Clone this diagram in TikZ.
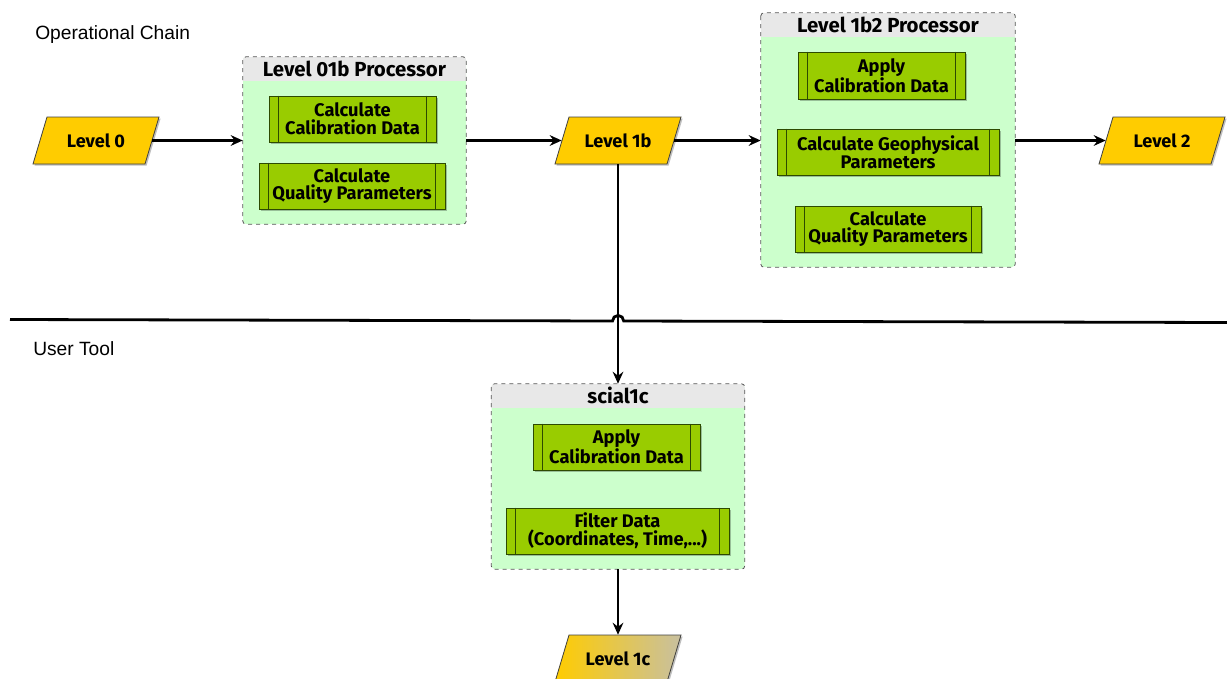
\documentclass[tikz,border=0pt]{standalone}
\usepackage{fontspec}
\setmainfont{Fira Sans}
\newfontfamily\arialfont{Liberation Sans}
\usetikzlibrary{arrows.meta,shadows,calc}
\definecolor{dataY}{HTML}{FFCC00}
\definecolor{dataEnd}{HTML}{C8C0A0}
\definecolor{procG}{HTML}{99CC00}
\definecolor{procB}{HTML}{2D4A00}
\definecolor{bodyG}{HTML}{CCFFCC}
\definecolor{headG}{HTML}{E8E8E8}
\definecolor{bordG}{HTML}{555555}
\newcommand\mydata[5]{%
  \path[datafill,#5] ({#2-63},{#3+23.5}) -- ({#2-49},{#3-23.5}) -- ({#2+63},{#3-23.5}) -- ({#2+49},{#3+23.5}) -- cycle;
  \node[datatext] (#1) at (#2,#3) {#4};
}
\newcommand\mycont[6]{%
  \node[contbody, minimum width={#4*0.75pt}, minimum height={#5*0.75pt}] (#1) at (#2,#3) {};
  \begin{scope}
    \clip[rounded corners=2.5pt] (#1.north west) rectangle (#1.south east);
    \fill[headG] (#1.north west) rectangle ([yshift=-18pt]#1.north east);
  \end{scope}
  \draw[contborder] (#1.north west) rectangle (#1.south east);
  \node[headtext] (#1-title) at ([yshift=-9pt]#1.north) {#6};
}
\newcommand\myproc[6]{%
  \node[proc, minimum width={#4*0.75pt}, minimum height={#5*0.75pt}] (#1) at (#2,#3) {#6};
  \draw[procbar] ([xshift=7.5pt]#1.north west) -- ([xshift=7.5pt]#1.south west);
  \draw[procbar] ([xshift=-7.5pt]#1.north east) -- ([xshift=-7.5pt]#1.south east);
}
\begin{document}
\begin{tikzpicture}[x=0.75pt,y=-0.75pt,
  datafill/.style={draw=black!75, line width=0.6pt, fill=dataY,
    drop shadow={shadow xshift=1.2pt, shadow yshift=-1.2pt, opacity=0.25, fill=black}},
  datatext/.style={inner sep=0pt, minimum width=84pt, minimum height=35.25pt,
    font=\fontsize{13.6}{14}\selectfont\bfseries},
  contbody/.style={fill=bodyG, rounded corners=2.5pt, inner sep=0pt},
  contborder/.style={draw=bordG, dashed, line width=0.6pt, rounded corners=2.5pt},
  headtext/.style={inner sep=0pt, font=\fontsize{15.3}{16}\selectfont\bfseries},
  proc/.style={draw=procB, fill=procG, line width=0.7pt, inner sep=0pt, align=center,
    font=\fontsize{13.7}{13.2}\selectfont\bfseries,
    drop shadow={shadow xshift=1.2pt, shadow yshift=-1.2pt, opacity=0.25, fill=black}},
  procbar/.style={draw=procB, line width=0.7pt},
  conn/.style={draw=black, line width=1.8pt, -{Stealth[length=9pt,width=8pt,inset=3pt]}},
  sep/.style={draw=black, line width=2.1pt},
  lbl/.style={inner sep=0pt, anchor=west, font=\arialfont\fontsize{14.4}{16}\selectfont}
]
\useasboundingbox (0,0) rectangle (1227,678);

\node[lbl] (opchain) at (35,35) {Operational Chain};
\node[lbl] (usertool) at (33,349) {User Tool};

% separator with hop
\coordinate (sepL) at (10,319.5);
\coordinate (sepR) at (1227,322.5);
\coordinate (hopA) at (612.5,321);
\draw[sep] (sepL) -- (hopA) arc[start angle=180, end angle=0, radius=4.2pt] -- (sepR);

% containers
\mycont{cA}{354.5}{140.5}{223}{167}{Level 01b Processor}
\mycont{cB}{888}{140}{254}{254}{Level 1b2 Processor}
\mycont{cC}{618}{476.5}{253}{185}{scial1c}

% processes
\myproc{pA1}{352.5}{119}{167}{46}{Calculate\\Calibration Data}
\myproc{pA2}{352}{186}{186}{46}{Calculate\\Quality Parameters}
\myproc{pB1}{881.5}{75.5}{167}{47}{Apply\\Calibration Data}
\myproc{pB2}{888}{152}{222}{46}{Calculate Geophysical\\Parameters}
\myproc{pB3}{888}{229}{186}{46}{Calculate\\Quality Parameters}
\myproc{pC1}{616.5}{447}{167}{46}{Apply\\Calibration Data}
\myproc{pC2}{617.5}{531}{223}{46}{Filter Data\\(Coordinates, Time,...)}

% data shapes
\mydata{l0}{96}{140.5}{Level 0}{}
\mydata{l1b}{618}{140.5}{Level 1b}{}
\mydata{l2}{1162}{140.5}{Level 2}{}
\mydata{l1c}{618}{658.5}{Level 1c}{left color=dataY, right color=dataEnd}

% connectors
\draw[conn] (l0.east) -- (l0.east -| cA.west);
\draw[conn] (cA.east |- l1b.west) -- (l1b.west);
\draw[conn] (l1b.east) -- (l1b.east -| cB.west);
\draw[conn] (cB.east |- l2.west) -- (l2.west);
\draw[conn] (l1b.south) -- (l1b.south |- cC.north);
\draw[conn] (cC.south) -- (l1c.north);
\end{tikzpicture}
\end{document}
